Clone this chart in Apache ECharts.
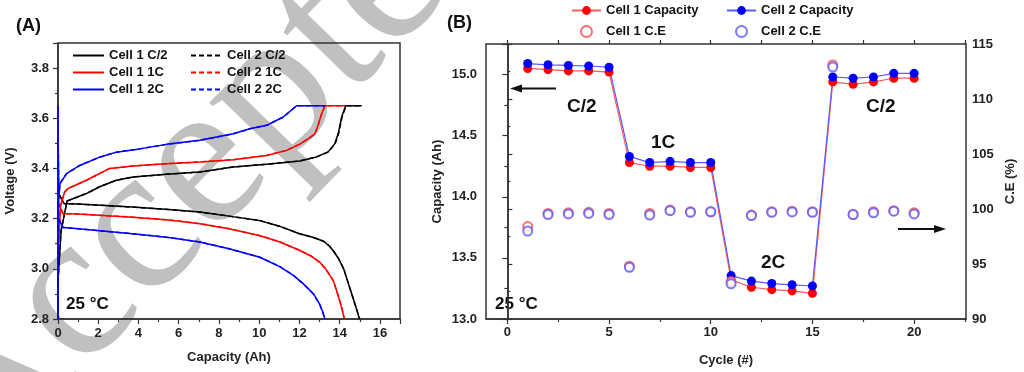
<!DOCTYPE html>
<html><head><meta charset="utf-8">
<script src="https://cdn.jsdelivr.net/npm/echarts@6/dist/echarts.min.js"></script>
<style>html,body{margin:0;padding:0;background:#fff;}#c{width:1024px;height:372px;}</style>
</head><body><div id="c"></div>
<script>
// ---------- Panel A: voltage vs capacity ----------
const c1_C2_chg_cap = [0, 0.15, 0.45, 1.41, 2.07, 2.9, 3.73, 5.39, 7.05, 8.71, 10.37, 12.02, 12.85, 13.43, 13.76, 13.93, 14.1, 14.3, 15.1];
const c1_C2_chg_v   = [2.95, 3.15, 3.27, 3.30, 3.327, 3.353, 3.366, 3.377, 3.386, 3.406, 3.417, 3.43, 3.446, 3.466, 3.499, 3.539, 3.605, 3.65, 3.65];
const c1_C2_dis_cap = [0, 0.03, 0.3, 1.0, 3.7, 5.5, 7.05, 8.5, 10.0, 11.0, 12.0, 12.7, 13.2, 13.5, 13.7, 13.95, 14.2, 14.4, 14.6, 14.8, 14.95, 15.0];
const c1_C2_dis_v   = [3.65, 3.30, 3.26, 3.258, 3.246, 3.236, 3.226, 3.21, 3.193, 3.17, 3.14, 3.125, 3.11, 3.09, 3.07, 3.04, 3.0, 2.95, 2.9, 2.85, 2.81, 2.8];

const c1_1C_chg_cap = [0, 0.12, 0.33, 0.5, 1.41, 2.57, 3.73, 5.39, 7.05, 8.71, 10.37, 11.36, 12.02, 12.52, 12.77, 12.93, 13.1, 13.27, 14.26];
const c1_1C_chg_v   = [3.05, 3.25, 3.306, 3.32, 3.353, 3.40, 3.41, 3.419, 3.426, 3.435, 3.452, 3.472, 3.497, 3.523, 3.538, 3.572, 3.617, 3.65, 3.65];
const c1_1C_dis_cap = [0, 0.03, 0.25, 1.0, 3.7, 5.5, 7.05, 8.5, 10.0, 11.0, 12.0, 12.6, 13.0, 13.3, 13.55, 13.7, 13.9, 14.05, 14.15, 14.23];
const c1_1C_dis_v   = [3.65, 3.26, 3.22, 3.218, 3.206, 3.195, 3.18, 3.16, 3.133, 3.108, 3.074, 3.05, 3.027, 3.0, 2.97, 2.95, 2.9, 2.86, 2.83, 2.8];

const c1_2C_chg_cap = [0, 0, 0.1, 0.42, 1.08, 2.07, 2.9, 4.06, 5.39, 7.05, 7.88, 8.71, 9.54, 10.37, 11.2, 11.86, 13.27];
const c1_2C_chg_v   = [2.8, 3.25, 3.34, 3.379, 3.412, 3.445, 3.465, 3.478, 3.496, 3.512, 3.525, 3.538, 3.558, 3.572, 3.605, 3.65, 3.65];
const c1_2C_dis_cap = [0, 0.02, 0.25, 1.0, 3.7, 5.5, 7.05, 8.5, 10.0, 11.0, 11.7, 12.2, 12.7, 13.0, 13.15, 13.27];
const c1_2C_dis_v   = [3.65, 3.20, 3.165, 3.16, 3.14, 3.125, 3.107, 3.08, 3.047, 3.01, 2.974, 2.94, 2.9, 2.86, 2.83, 2.8];

const c2_C2_chg_cap = [0, 0.15, 0.45, 1.41, 2.07, 2.9, 3.73, 5.39, 7.05, 8.71, 10.37, 12.02, 12.85, 13.45, 13.78, 13.95, 14.12, 14.32, 15.1];
const c2_C2_chg_v   = [2.95, 3.15, 3.27, 3.30, 3.327, 3.353, 3.366, 3.377, 3.386, 3.406, 3.417, 3.43, 3.446, 3.466, 3.499, 3.539, 3.605, 3.65, 3.65];
const c2_C2_dis_cap = [0, 0.03, 0.3, 1.0, 3.7, 5.5, 7.05, 8.5, 10.0, 11.0, 12.0, 12.7, 13.2, 13.5, 13.7, 13.95, 14.2, 14.4, 14.6, 14.8, 14.95, 15.0];
const c2_C2_dis_v   = [3.65, 3.30, 3.26, 3.258, 3.246, 3.236, 3.226, 3.21, 3.193, 3.17, 3.14, 3.125, 3.11, 3.09, 3.07, 3.04, 3.0, 2.95, 2.9, 2.85, 2.81, 2.8];

const c2_1C_chg_cap = [0, 0.12, 0.33, 0.5, 1.41, 2.57, 3.73, 5.39, 7.05, 8.71, 10.37, 11.36, 12.02, 12.52, 12.77, 12.93, 13.1, 13.27, 14.26];
const c2_1C_chg_v   = [3.05, 3.25, 3.306, 3.32, 3.353, 3.40, 3.41, 3.419, 3.426, 3.435, 3.452, 3.472, 3.497, 3.523, 3.538, 3.572, 3.617, 3.65, 3.65];
const c2_1C_dis_cap = [0, 0.03, 0.25, 1.0, 3.7, 5.5, 7.05, 8.5, 10.0, 11.0, 12.0, 12.6, 13.0, 13.3, 13.55, 13.7, 13.9, 14.05, 14.15, 14.23];
const c2_1C_dis_v   = [3.65, 3.26, 3.22, 3.218, 3.206, 3.195, 3.18, 3.16, 3.133, 3.108, 3.074, 3.05, 3.027, 3.0, 2.97, 2.95, 2.9, 2.86, 2.83, 2.8];

const c2_2C_chg_cap = [0, 0, 0.1, 0.42, 1.08, 2.07, 2.9, 4.06, 5.39, 7.05, 7.88, 8.71, 9.54, 10.37, 11.2, 11.86, 13.27];
const c2_2C_chg_v   = [2.8, 3.25, 3.34, 3.379, 3.412, 3.445, 3.465, 3.478, 3.496, 3.512, 3.525, 3.538, 3.558, 3.572, 3.605, 3.65, 3.65];
const c2_2C_dis_cap = [0, 0.02, 0.25, 1.0, 3.7, 5.5, 7.05, 8.5, 10.0, 11.0, 11.7, 12.2, 12.7, 13.0, 13.15, 13.27];
const c2_2C_dis_v   = [3.65, 3.20, 3.165, 3.16, 3.14, 3.125, 3.107, 3.08, 3.047, 3.01, 2.974, 2.94, 2.9, 2.86, 2.83, 2.8];

// ---------- Panel B: cycling ----------
const cycles = [1,2,3,4,5,6,7,8,9,10,11,12,13,14,15,16,17,18,19,20];
const cell1Cap = [15.05,15.04,15.03,15.03,15.02, 14.28,14.25,14.25,14.24,14.24, 13.32,13.26,13.24,13.23,13.21, 14.94,14.92,14.94,14.97,14.97];
const cell2Cap = [15.09,15.08,15.075,15.07,15.06, 14.33,14.28,14.29,14.28,14.28, 13.355,13.31,13.29,13.28,13.27, 14.98,14.97,14.98,15.01,15.01];
const cell1CE  = [98.4,99.6,99.65,99.7,99.6, 94.8,99.6,99.9,99.75,99.75, 93.4,99.45,99.75,99.8,99.75, 113.1,99.5,99.75,99.85,99.65];
const cell2CE  = [98.0,99.5,99.55,99.6,99.5, 94.7,99.45,99.85,99.7,99.75, 93.2,99.4,99.7,99.73,99.7, 112.9,99.5,99.65,99.8,99.55];

const xTicksB = [0,5,10,15,20];
const xMinorB = [2.5,7.5,12.5,17.5,22.5];
const xTopB   = [0,2.5,5,7.5,10,12.5,15,17.5,20,22.5];

function zip(a, b){ return a.map((v,i)=>[v, b[i]]); }

const FONT = "'Liberation Sans', Arial, sans-serif";
const AX = '#333';
const lbl = {fontFamily: FONT, fontWeight: 'bold', fontSize: 13, color: '#222'};

function curve(name, cap, v, color, dashed){
  return {
    name, type: 'line', xAxisIndex: 0, yAxisIndex: 0, data: zip(cap, v),
    symbol: 'circle', showSymbol: false, animation: false, z: 3,
    lineStyle: {color, width: 1.5, type: dashed ? [5,3] : 'solid'},
    itemStyle: {color}
  };
}

const series = [
  curve('Cell 1 C/2', c1_C2_chg_cap, c1_C2_chg_v, '#000000', false),
  curve('Cell 1 C/2', c1_C2_dis_cap, c1_C2_dis_v, '#000000', false),
  curve('Cell 2 C/2', c2_C2_chg_cap, c2_C2_chg_v, '#000000', true),
  curve('Cell 2 C/2', c2_C2_dis_cap, c2_C2_dis_v, '#000000', true),
  curve('Cell 1 1C', c1_1C_chg_cap, c1_1C_chg_v, '#ff0000', false),
  curve('Cell 1 1C', c1_1C_dis_cap, c1_1C_dis_v, '#ff0000', false),
  curve('Cell 2 1C', c2_1C_chg_cap, c2_1C_chg_v, '#ff0000', true),
  curve('Cell 2 1C', c2_1C_dis_cap, c2_1C_dis_v, '#ff0000', true),
  curve('Cell 1 2C', c1_2C_chg_cap, c1_2C_chg_v, '#0000ff', false),
  curve('Cell 1 2C', c1_2C_dis_cap, c1_2C_dis_v, '#0000ff', false),
  curve('Cell 2 2C', c2_2C_chg_cap, c2_2C_chg_v, '#0000ff', true),
  curve('Cell 2 2C', c2_2C_dis_cap, c2_2C_dis_v, '#0000ff', true),
  {name: 'Cell 1 Capacity', type: 'line', xAxisIndex: 1, yAxisIndex: 1, data: zip(cycles, cell1Cap),
   symbol: 'circle', symbolSize: 9, itemStyle: {color: '#ff0000'}, lineStyle: {color: '#ff5a5a', width: 1.2}, z: 3},
  {name: 'Cell 2 Capacity', type: 'line', xAxisIndex: 1, yAxisIndex: 1, data: zip(cycles, cell2Cap),
   symbol: 'circle', symbolSize: 9, itemStyle: {color: '#0000ff'}, lineStyle: {color: '#5a5aff', width: 1.2}, z: 3},
  {name: 'Cell 1 C.E', type: 'scatter', xAxisIndex: 1, yAxisIndex: 2, data: zip(cycles, cell1CE),
   symbol: 'emptyCircle', symbolSize: 9, itemStyle: {color: '#ff4a4a', borderWidth: 1.2}, z: 4},
  {name: 'Cell 2 C.E', type: 'scatter', xAxisIndex: 1, yAxisIndex: 2, data: zip(cycles, cell2CE),
   symbol: 'emptyCircle', symbolSize: 9, itemStyle: {color: '#5a5aff', borderWidth: 1.2}, z: 4}
];

const axLine = {show: true, lineStyle: {color: AX, width: 1.5}};
const tickStyle = {color: AX, width: 1.2};
const nameStyle = {fontFamily: FONT, fontWeight: 'bold', fontSize: 13, color: '#222'};
const legText = {fontFamily: FONT, fontWeight: 'bold', fontSize: 13, color: '#111'};

const option = {
  animation: false,
  backgroundColor: '#fff',
  textStyle: {fontFamily: FONT},
  grid: [
    {left: 58, top: 43, width: 342, height: 276, show: true, borderColor: AX, borderWidth: 1.5, backgroundColor: 'transparent'},
    {left: 486, top: 44, width: 480, height: 275, show: true, borderColor: AX, borderWidth: 1.5, backgroundColor: 'transparent'}
  ],
  xAxis: [
    {gridIndex: 0, type: 'value', min: 0, max: 17, interval: 2,
     axisLine: axLine, axisTick: {show: true, length: 5, lineStyle: tickStyle},
     minorTick: {show: true, splitNumber: 2, length: 3, lineStyle: tickStyle},
     axisLabel: Object.assign({margin: 8, showMaxLabel: false}, lbl), splitLine: {show: false},
     name: 'Capacity (Ah)', nameLocation: 'middle', nameGap: 32, nameTextStyle: nameStyle},
    {gridIndex: 1, type: 'value', min: -1.05, max: 22.55,
     axisLine: axLine, axisTick: {show: true, length: 5, lineStyle: tickStyle, customValues: xTicksB},
     axisLabel: Object.assign({margin: 7, customValues: xTicksB}, lbl), splitLine: {show: false},
     name: 'Cycle (#)', nameLocation: 'middle', nameGap: 35, nameTextStyle: nameStyle},
    {gridIndex: 1, type: 'value', min: -1.05, max: 22.55, position: 'bottom',
     axisLine: {show: false}, axisTick: {show: true, length: 3, lineStyle: tickStyle, customValues: xMinorB},
     axisLabel: {show: false}, splitLine: {show: false}},
    {gridIndex: 1, type: 'value', min: -1.05, max: 22.55, position: 'top',
     axisLine: {show: false}, axisTick: {show: true, length: 4, lineStyle: tickStyle, customValues: xTopB},
     axisLabel: {show: false}, splitLine: {show: false}}
  ],
  yAxis: [
    {gridIndex: 0, type: 'value', min: 2.8, max: 3.9, interval: 0.2,
     axisLine: axLine, axisTick: {show: true, length: 5, lineStyle: tickStyle},
     minorTick: {show: true, splitNumber: 2, length: 3, lineStyle: tickStyle},
     axisLabel: Object.assign({margin: 9, showMaxLabel: false, formatter: v => v.toFixed(1)}, lbl), splitLine: {show: false},
     name: 'Voltage (V)', nameLocation: 'middle', nameGap: 41, nameTextStyle: nameStyle},
    {gridIndex: 1, type: 'value', min: 13.0, max: 15.25, interval: 0.5,
     axisLine: axLine, axisTick: {show: true, length: 5, lineStyle: tickStyle},
     minorTick: {show: true, splitNumber: 2, length: 3, lineStyle: tickStyle},
     axisLabel: Object.assign({margin: 9, showMaxLabel: false, formatter: v => v.toFixed(1)}, lbl), splitLine: {show: false},
     name: 'Capacity (Ah)', nameLocation: 'middle', nameGap: 42, nameTextStyle: nameStyle},
    {gridIndex: 1, type: 'value', position: 'right', min: 90, max: 115, interval: 5,
     axisLine: axLine, axisTick: {show: true, length: 5, lineStyle: tickStyle},
     minorTick: {show: true, splitNumber: 2, length: 3, lineStyle: tickStyle},
     axisLabel: Object.assign({margin: 6}, lbl), splitLine: {show: false},
     name: 'C.E (%)', nameLocation: 'middle', nameGap: 38, nameRotate: 90, nameTextStyle: nameStyle}
  ],
  legend: [
    {data: ['Cell 1 C/2', 'Cell 1 1C', 'Cell 1 2C'], orient: 'vertical', left: 72, top: 49, padding: 0,
     itemWidth: 31, itemHeight: 14, itemGap: 4, itemStyle: {opacity: 0}, textStyle: legText},
    {data: ['Cell 2 C/2', 'Cell 2 1C', 'Cell 2 2C'], orient: 'vertical', left: 190, top: 49, padding: 0,
     itemWidth: 31, itemHeight: 14, itemGap: 4, itemStyle: {opacity: 0}, textStyle: legText},
    {data: ['Cell 1 Capacity', 'Cell 1 C.E'], orient: 'vertical', left: 571, top: 4, padding: 0,
     itemWidth: 29, itemHeight: 11, itemGap: 8, textStyle: legText},
    {data: ['Cell 2 Capacity', 'Cell 2 C.E'], orient: 'vertical', left: 726, top: 4, padding: 0,
     itemWidth: 29, itemHeight: 11, itemGap: 8, textStyle: legText}
  ],
  graphic: [
    {type: 'text', z: -10, x: -140, y: 371, rotation: 0.8,
     style: {text: 'Accepted', font: "210px 'Liberation Serif', 'DejaVu Serif', serif", fill: '#c0c0c0'}},
    {type: 'text', x: 16, y: 17, style: {text: '(A)', font: "bold 18px " + FONT, fill: '#111'}},
    {type: 'text', x: 447, y: 14, style: {text: '(B)', font: "bold 18px " + FONT, fill: '#111'}},
    {type: 'text', x: 66, y: 296, style: {text: '25 °C', font: "bold 17px " + FONT, fill: '#111'}},
    {type: 'text', x: 495, y: 296, style: {text: '25 °C', font: "bold 17px " + FONT, fill: '#111'}},
    {type: 'text', x: 567, y: 97, style: {text: 'C/2', font: "bold 19px " + FONT, fill: '#111'}},
    {type: 'text', x: 651, y: 133, style: {text: '1C', font: "bold 19px " + FONT, fill: '#111'}},
    {type: 'text', x: 761, y: 253, style: {text: '2C', font: "bold 19px " + FONT, fill: '#111'}},
    {type: 'text', x: 866, y: 97, style: {text: 'C/2', font: "bold 19px " + FONT, fill: '#111'}},
    {type: 'line', shape: {x1: 520, y1: 88.5, x2: 556, y2: 88.5}, style: {stroke: '#111', lineWidth: 2}},
    {type: 'polygon', shape: {points: [[510, 88.5], [522, 84.5], [522, 92.5]]}, style: {fill: '#111'}},
    {type: 'line', shape: {x1: 898, y1: 229, x2: 935, y2: 229}, style: {stroke: '#111', lineWidth: 2}},
    {type: 'polygon', shape: {points: [[946, 229], [934, 225], [934, 233]]}, style: {fill: '#111'}}
  ],
  series
};

const chart = echarts.init(document.getElementById('c'), null, {renderer: 'canvas'});
chart.setOption(option);
</script>
</body></html>
